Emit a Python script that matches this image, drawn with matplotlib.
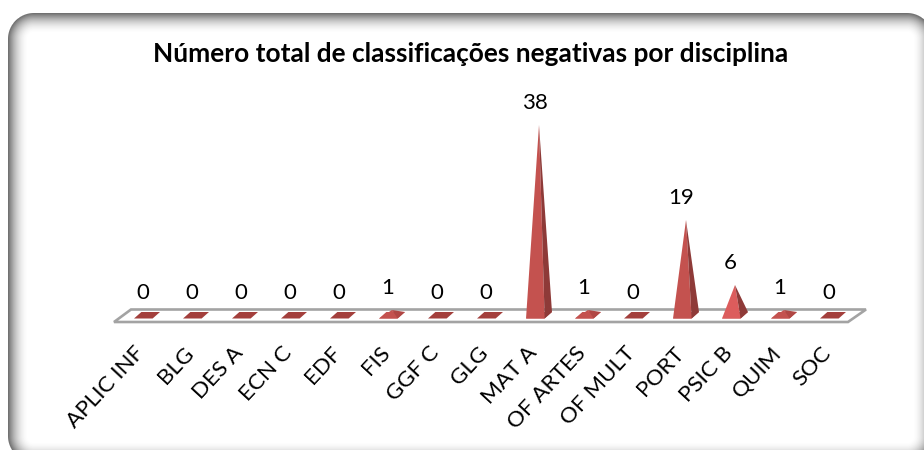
import numpy as np
import matplotlib
matplotlib.use('Agg')
import matplotlib.pyplot as plt
from matplotlib.patches import Polygon
from matplotlib.transforms import ScaledTranslation

plt.rcParams['font.family'] = ['Lato', 'DejaVu Sans']

disciplinas = ['APLIC INF', 'BLG', 'DES A', 'ECN C', 'EDF', 'FIS', 'GGF C', 'GLG',
               'MAT A', 'OF ARTES', 'OF MULT', 'PORT', 'PSIC B', 'QUIM', 'SOC']
negativas = [0, 0, 0, 0, 0, 1, 0, 0, 38, 1, 0, 19, 6, 1, 0]
titulo = 'Número total de classificações negativas por disciplina'

W, H = 924, 450
fig = plt.figure(figsize=(W / 100, H / 100), dpi=100, facecolor='white')

# moldura: retangulo arredondado com sombra interior
bg = fig.add_axes([0, 0, 1, 1])
bg.axis('off')
xx, yy = np.meshgrid(np.arange(W) + 0.5, np.arange(H) + 0.5)
x0, x1, y0, y1, r = 8, 933, 13, 462, 26
qx = np.abs(xx - (x0 + x1) / 2) - ((x1 - x0) / 2 - r)
qy = np.abs(yy - (y0 + y1) / 2) - ((y1 - y0) / 2 - r)
dist = r - np.hypot(np.maximum(qx, 0), np.maximum(qy, 0)) - np.minimum(np.maximum(qx, qy), 0)
sombra = np.clip(1 - dist / 21, 0, 1) ** 2
gray = 1 - 0.58 * sombra
gray = gray * np.clip(dist + 0.5, 0, 1) + (1 - np.clip(dist + 0.5, 0, 1))
bg.imshow(gray, cmap='gray', vmin=0, vmax=1, extent=(0, W, H, 0), aspect='auto', interpolation='nearest')

# eixo: 49 px por categoria, 5 px por unidade, zero em y=315
ax = fig.add_axes([0, (H - 322) / H, 1, (322 - 60) / H])
ax.patch.set_alpha(0)
ax.set_xlim(-147 / 49, (W - 147) / 49)
ax.set_ylim(-7 / 5, (315 - 60) / 5)
for s in ax.spines.values():
    s.set_visible(False)
ax.set_yticks([])
ax.set_xticks(range(len(disciplinas)))
ax.set_xticklabels(disciplinas, rotation=47, ha='right', va='top', rotation_mode='anchor', fontsize=16.2)
ax.tick_params(axis='x', length=0, pad=15)
desvio = ScaledTranslation(-13 / 100, 0, fig.dpi_scale_trans)
for lab in ax.get_xticklabels():
    lab.set_transform(lab.get_transform() + desvio)

# chao do grafico
ax.add_patch(Polygon([(-0.673, -1.4), (14.306, -1.4), (14.673, 1.1), (-0.327, 1.1)], closed=True,
                     facecolor='white', edgecolor='#a3a3a3', lw=1.9, clip_on=False, joinstyle='miter'))

hw, dx, fy, by = 0.19, 0.15, -0.7, 0.6
for i, v in enumerate(negativas):
    base = [(i - dx / 2 - hw, fy), (i - dx / 2 + hw, fy), (i + dx / 2 + hw, by), (i + dx / 2 - hw, by)]
    if v == 0:
        ax.add_patch(Polygon(base, closed=True, facecolor='#a33f3c', edgecolor='none'))
    else:
        frente = '#dc5c5c' if v == 6 else '#c4524f'
        lado = '#b04744' if v == 1 else '#8e3a38'
        topo = (i, v)
        ax.add_patch(Polygon(base, closed=True, facecolor='#c4524f', edgecolor='none'))
        ax.add_patch(Polygon([base[0], base[1], topo], closed=True, facecolor=frente, edgecolor='none'))
        ax.add_patch(Polygon([base[1], base[2], topo], closed=True, facecolor=lado, edgecolor='none'))
    ax.annotate(str(v), (i, v), xytext=(-3.2, 15.5), textcoords='offset points',
                ha='center', va='center', fontsize=16, color='black')

fig.text(471 / W, 1 - 54 / H, titulo, ha='center', va='center', fontsize=18.9, fontweight='bold', color='black')

fig.savefig('out.png', dpi=100)
